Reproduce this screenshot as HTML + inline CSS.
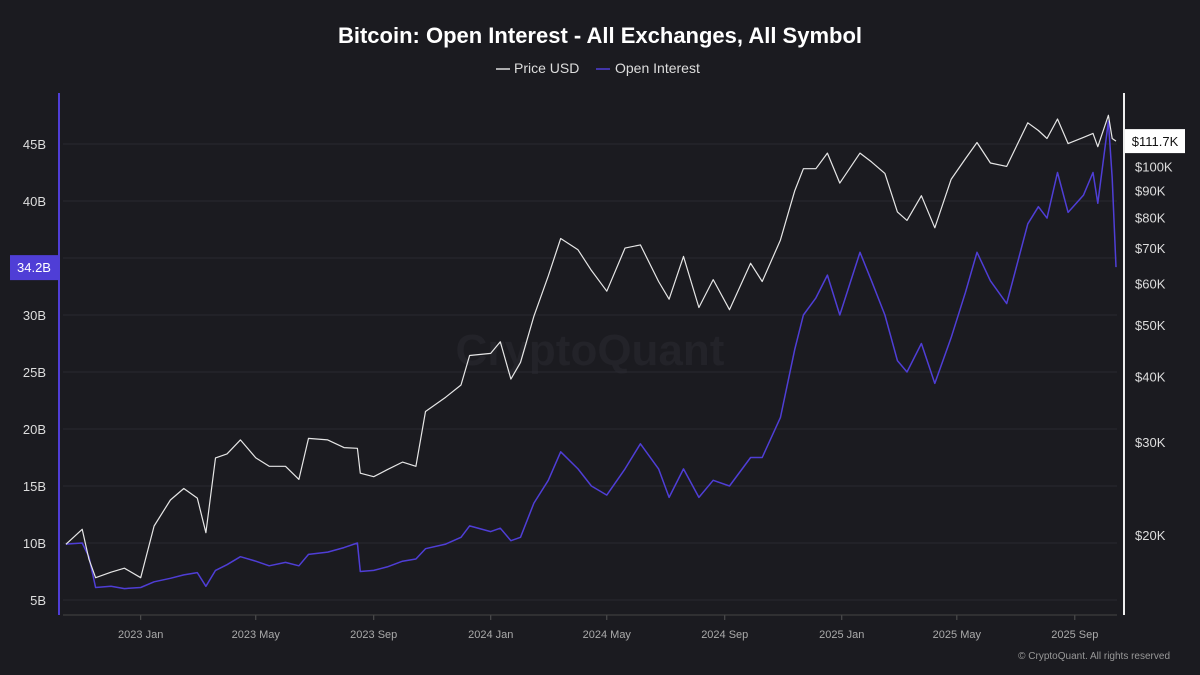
<!DOCTYPE html>
<html><head><meta charset="utf-8"><style>
body{margin:0;background:#1b1b20;font-family:"Liberation Sans",sans-serif;}
svg{display:block}
</style></head><body>
<svg id="c" width="1200" height="675">
<rect width="1200" height="675" fill="#1b1b20"/>
<text x="600" y="43" text-anchor="middle" fill="#fff" font-size="22" font-weight="bold">Bitcoin: Open Interest - All Exchanges, All Symbol</text>
<g font-size="14" fill="#ddd">
<g><line x1="496" y1="69" x2="510" y2="69" stroke="#ddd" stroke-width="1.5"/><text x="514" y="73">Price USD</text></g>
<g><line x1="596" y1="69" x2="610" y2="69" stroke="#4f3ed6" stroke-width="1.5"/><text x="615" y="73">Open Interest</text></g>
</g>
<text x="590" y="365" text-anchor="middle" fill="#232329" font-size="44" font-weight="bold">CryptoQuant</text>
<g id="grid"></g><g id="axes"></g><g id="series"></g>
<text x="1170" y="659" text-anchor="end" fill="#999" font-size="10">© CryptoQuant. All rights reserved</text>
</svg>
<script>
const dates=["2022-10-15","2022-11-01","2022-11-08","2022-11-15","2022-12-01","2022-12-15","2023-01-01","2023-01-15","2023-02-01","2023-02-15","2023-03-01","2023-03-10","2023-03-20","2023-04-01","2023-04-15","2023-05-01","2023-05-15","2023-06-01","2023-06-15","2023-06-25","2023-07-15","2023-08-01","2023-08-15","2023-08-18","2023-09-01","2023-09-15","2023-10-01","2023-10-15","2023-10-25","2023-11-15","2023-12-01","2023-12-10","2024-01-01","2024-01-11","2024-01-22","2024-02-01","2024-02-15","2024-03-01","2024-03-14","2024-04-01","2024-04-15","2024-05-01","2024-05-20","2024-06-05","2024-06-24","2024-07-05","2024-07-20","2024-08-05","2024-08-20","2024-09-06","2024-09-28","2024-10-10","2024-10-29","2024-11-13","2024-11-22","2024-12-05","2024-12-17","2024-12-30","2025-01-20","2025-02-01","2025-02-15","2025-02-28","2025-03-10","2025-03-25","2025-04-08","2025-04-25","2025-05-10","2025-05-22","2025-06-05","2025-06-22","2025-07-14","2025-07-25","2025-08-03","2025-08-14","2025-08-25","2025-09-10","2025-09-20","2025-09-25","2025-10-06","2025-10-10","2025-10-14"];
const priceK=[19.2,20.5,18.0,16.6,17.0,17.3,16.6,20.8,23.3,24.5,23.5,20.2,28.0,28.5,30.3,28.0,27.0,27.0,25.5,30.5,30.3,29.3,29.2,26.2,25.8,26.6,27.5,27.0,34.3,36.5,38.5,43.8,44.2,46.5,39.5,42.5,52.0,62.0,73.0,69.5,63.5,58.0,70.0,71.0,60.5,56.0,67.5,54.0,61.0,53.5,65.5,60.5,72.5,90.0,99.0,99.0,106.0,93.0,106.0,102.0,97.0,82.0,79.0,88.0,76.5,94.5,103.5,111.0,101.5,100.0,121.0,117.0,113.0,123.0,110.5,113.5,115.5,109.0,125.0,113.0,111.7];
const oiB=[9.9,10.0,8.8,6.1,6.2,6.0,6.1,6.6,6.9,7.2,7.4,6.2,7.6,8.1,8.8,8.4,8.0,8.3,8.0,9.0,9.2,9.6,10.0,7.5,7.6,7.9,8.4,8.6,9.5,9.9,10.5,11.5,11.0,11.3,10.2,10.5,13.5,15.5,18.0,16.5,15.0,14.2,16.5,18.7,16.5,14.0,16.5,14.0,15.5,15.0,17.5,17.5,21.0,27.0,30.0,31.5,33.5,30.0,35.5,33.0,30.0,26.0,25.0,27.5,24.0,28.0,32.0,35.5,33.0,31.0,38.0,39.5,38.5,42.5,39.0,40.5,42.5,39.8,47.0,42.0,34.2];
const leftTicks=[5,10,15,20,25,30,35,40,45];
const rightTicks=[20,30,40,50,60,70,80,90,100];
const xTicks=[["2023-01-01","2023 Jan"],["2023-05-01","2023 May"],["2023-09-01","2023 Sep"],["2024-01-01","2024 Jan"],["2024-05-01","2024 May"],["2024-09-01","2024 Sep"],["2025-01-01","2025 Jan"],["2025-05-01","2025 May"],["2025-09-01","2025 Sep"]];
const NS="http://www.w3.org/2000/svg";
const t0=Date.parse("2022-10-12"),t1=Date.parse("2025-10-15");
const X=d=>63+(Date.parse(d)-t0)/(t1-t0)*1054;
const YL=v=>600-(v-5)*11.4;
const YR=k=>535-229*Math.log(k/20);
function el(tag,attrs,parent,txt){const e=document.createElementNS(NS,tag);for(const k in attrs)e.setAttribute(k,attrs[k]);if(txt!==undefined)e.textContent=txt;parent.appendChild(e);return e;}
const grid=document.getElementById('grid'),axes=document.getElementById('axes'),series=document.getElementById('series');
leftTicks.forEach(v=>{
 const y=YL(v);
 const g=el('line',{x1:63,x2:1117,y1:y,y2:y,stroke:'#2a2a31','stroke-width':1},grid);
 
 
 if(v===35)return;
 const t=el('text',{x:46,y:y+5,'text-anchor':'end',fill:'#ddd','font-size':13},axes,v+'B');
 
 
});
rightTicks.forEach(k=>{
 const t=el('text',{x:1135,y:YR(k)+5,fill:'#ddd','font-size':13},axes,'$'+k+'K');
 
 
});
xTicks.forEach(([d,l])=>{
 const x=X(d);
 el('line',{x1:x,x2:x,y1:615,y2:620,stroke:'#555'},axes);
 const t=el('text',{x:x,y:638,'text-anchor':'middle',fill:'#aaa','font-size':11},axes,l);
 
 
});
el('line',{x1:63,x2:1117,y1:615,y2:615,stroke:'#444'},axes);
const la=el('line',{x1:59,x2:59,y1:93,y2:615,stroke:'#4f3ed6','stroke-width':2},axes);


const ra=el('line',{x1:1124,x2:1124,y1:93,y2:615,stroke:'#eee','stroke-width':2},axes);


const oiPath=el('polyline',{points:dates.map((d,i)=>X(d).toFixed(1)+','+YL(oiB[i]).toFixed(1)).join(' '),fill:'none',stroke:'#4f3ed6','stroke-width':1.5,'stroke-linejoin':'round'},series);


const pPath=el('polyline',{points:dates.map((d,i)=>X(d).toFixed(1)+','+YR(priceK[i]).toFixed(1)).join(' '),fill:'none',stroke:'#e6e6e6','stroke-width':1.2,'stroke-linejoin':'round'},series);


const lastOI=oiB[oiB.length-1],lastP=priceK[priceK.length-1];
const lb=el('g',{},axes);


el('rect',{x:10,y:YL(lastOI)-12,width:49,height:25,fill:'#4f3ed6'},lb);
el('text',{x:34,y:YL(lastOI)+5,'text-anchor':'middle',fill:'#fff','font-size':13},lb,lastOI.toFixed(1)+'B');
const rb=el('g',{},axes);


el('rect',{x:1125,y:YR(lastP)-12,width:60,height:24,fill:'#fff'},rb);
el('text',{x:1155,y:YR(lastP)+5,'text-anchor':'middle',fill:'#111','font-size':13},rb,'$'+lastP.toFixed(1)+'K');
</script>
</body></html>
